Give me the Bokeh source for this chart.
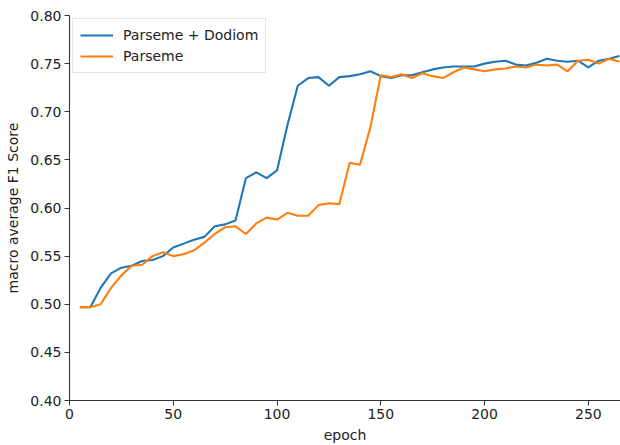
from bokeh.plotting import figure
from bokeh.models import FixedTicker, Range1d, Legend, LegendItem, CustomJSTickFormatter
from bokeh.embed import file_html
from bokeh.resources import INLINE

# Training curves: macro-averaged F1 per evaluation epoch
epochs = list(range(5, 270, 5))

parseme_dodiom = [
    0.497, 0.497, 0.517, 0.532, 0.538, 0.540, 0.545, 0.546, 0.550, 0.559,
    0.563, 0.567, 0.570, 0.581, 0.583, 0.587, 0.631, 0.637, 0.631, 0.639,
    0.686, 0.727, 0.735, 0.736, 0.727, 0.736, 0.737, 0.739, 0.742, 0.737,
    0.735, 0.738, 0.738, 0.741, 0.744, 0.746, 0.747, 0.747, 0.747, 0.750,
    0.752, 0.753, 0.749, 0.748, 0.751, 0.755, 0.753, 0.752, 0.753, 0.746,
    0.753, 0.755, 0.758,
]

parseme = [
    0.497, 0.497, 0.500, 0.517, 0.530, 0.540, 0.541, 0.550, 0.554, 0.550,
    0.552, 0.556, 0.564, 0.573, 0.580, 0.581, 0.573, 0.584, 0.590, 0.588,
    0.595, 0.592, 0.592, 0.603, 0.605, 0.604, 0.647, 0.645, 0.684, 0.738,
    0.736, 0.739, 0.735, 0.740, 0.737, 0.735, 0.741, 0.746, 0.744, 0.742,
    0.744, 0.745, 0.747, 0.746, 0.749, 0.748, 0.749, 0.742, 0.753, 0.754,
    0.750, 0.755, 0.752,
]

series_names = ["Parseme + Dodiom", "Parseme"]
series_colors = ["#1f77b4", "#ff7f0e"]

x_ticks = [0, 50, 100, 150, 200, 250]
y_ticks = [0.40, 0.45, 0.50, 0.55, 0.60, 0.65, 0.70, 0.75, 0.80]

FONT = "DejaVu Sans"
FS = "14px"

p = figure(
    width=620, height=445,
    output_backend="svg", toolbar_location=None,
    x_range=Range1d(0, 265.5), y_range=Range1d(0.40, 0.80),
    min_border_left=69, min_border_right=0,
    min_border_top=15, min_border_bottom=45,
)
p.outline_line_color = None
p.xgrid.visible = False
p.ygrid.visible = False
p.background_fill_color = "white"
p.border_fill_color = "white"

renderers = []
for ys, col in zip([parseme_dodiom, parseme], series_colors):
    r = p.line(epochs, ys, line_color=col, line_width=2.1)
    renderers.append(r)

for ax in (p.xaxis[0], p.yaxis[0]):
    ax.axis_line_color = "#333333"
    ax.axis_line_width = 1.1
    ax.major_tick_line_color = "#333333"
    ax.major_tick_in = 0
    ax.major_tick_out = 5
    ax.minor_tick_line_color = None
    ax.major_label_text_font = FONT
    ax.major_label_text_font_size = FS
    ax.major_label_text_color = "#222222"
    ax.axis_label_text_font = FONT
    ax.axis_label_text_font_size = FS
    ax.axis_label_text_font_style = "normal"
    ax.axis_label_text_color = "#222222"

p.xaxis.ticker = FixedTicker(ticks=x_ticks)
p.yaxis.ticker = FixedTicker(ticks=y_ticks)
p.yaxis.formatter = CustomJSTickFormatter(code="return tick.toFixed(2);")
p.xaxis.axis_label = "epoch"
p.yaxis.axis_label = "macro average F1 Score"
p.xaxis.major_label_standoff = 3
p.yaxis.major_label_standoff = 3
p.xaxis.axis_label_standoff = 5
p.yaxis.axis_label_standoff = 6

legend = Legend(
    items=[LegendItem(label=n, renderers=[r]) for n, r in zip(series_names, renderers)],
    location="top_left",
    label_text_font=FONT,
    label_text_font_size=FS,
    label_text_color="#222222",
    label_standoff=10,
    glyph_width=33,
    glyph_height=18,
    label_height=18,
    spacing=3,
    padding=7,
    margin=3,
    border_line_color="#cccccc",
    border_line_width=1,
    background_fill_color="white",
    background_fill_alpha=0.85,
)
p.add_layout(legend, "center")

open("out.html", "w").write(file_html(p, INLINE))
